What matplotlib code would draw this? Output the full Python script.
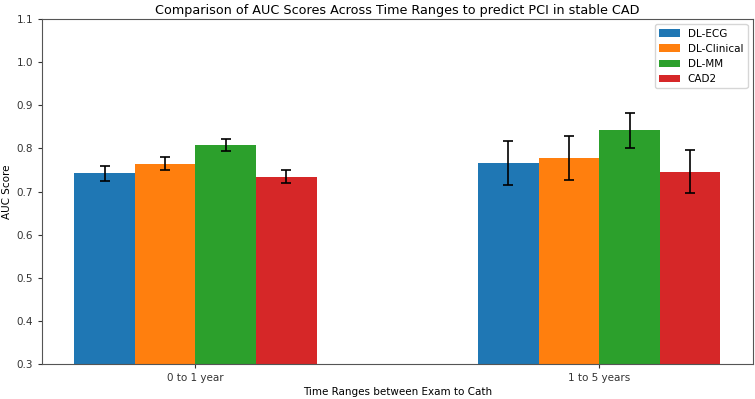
import numpy as np
import matplotlib
matplotlib.use("Agg")
import matplotlib.pyplot as plt

time_ranges = ['0 to 1 year', '1 to 5 years']
models = ['DL-ECG', 'DL-Clinical', 'DL-MM', 'CAD2']
colors = ['#1f77b4', '#ff7f0e', '#2ca02c', '#d62728']

auc_ecg = [0.742, 0.766]
auc_clinical = [0.764, 0.777]
auc_mm = [0.808, 0.842]
auc_cad2 = [0.734, 0.746]

err_ecg = [0.017, 0.052]
err_clinical = [0.015, 0.051]
err_mm = [0.015, 0.040]
err_cad2 = [0.015, 0.050]

aucs = [auc_ecg, auc_clinical, auc_mm, auc_cad2]
errs = [err_ecg, err_clinical, err_mm, err_cad2]

plt.rcParams['font.size'] = 7.5
fig = plt.figure(figsize=(7.55, 3.99), dpi=100)
ax = fig.add_axes([0.0556, 0.088, 0.9414, 0.864])

x = np.arange(len(time_ranges))
width = 0.15
for i, (name, vals, e) in enumerate(zip(models, aucs, errs)):
    ax.bar(x + (i - 1.5) * width, vals, width, yerr=e, capsize=3.6,
           color=colors[i], label=name,
           error_kw=dict(elinewidth=1.2, capthick=1.2, ecolor='black'))

ax.set_ylim(0.3, 1.1)
ax.set_xticks(x)
ax.set_xticklabels(time_ranges)
ax.set_xlabel('Time Ranges between Exam to Cath', labelpad=3)
ax.set_ylabel('AUC Score', labelpad=3)
ax.set_title('Comparison of AUC Scores Across Time Ranges to predict PCI in stable CAD',
             fontsize=9.2, pad=4)
for s in ax.spines.values():
    s.set_color('#555555')
ax.tick_params(colors='#333333', length=3)
ax.legend(loc='upper right', fontsize=7.5)

fig.savefig('out.png', dpi=100)
